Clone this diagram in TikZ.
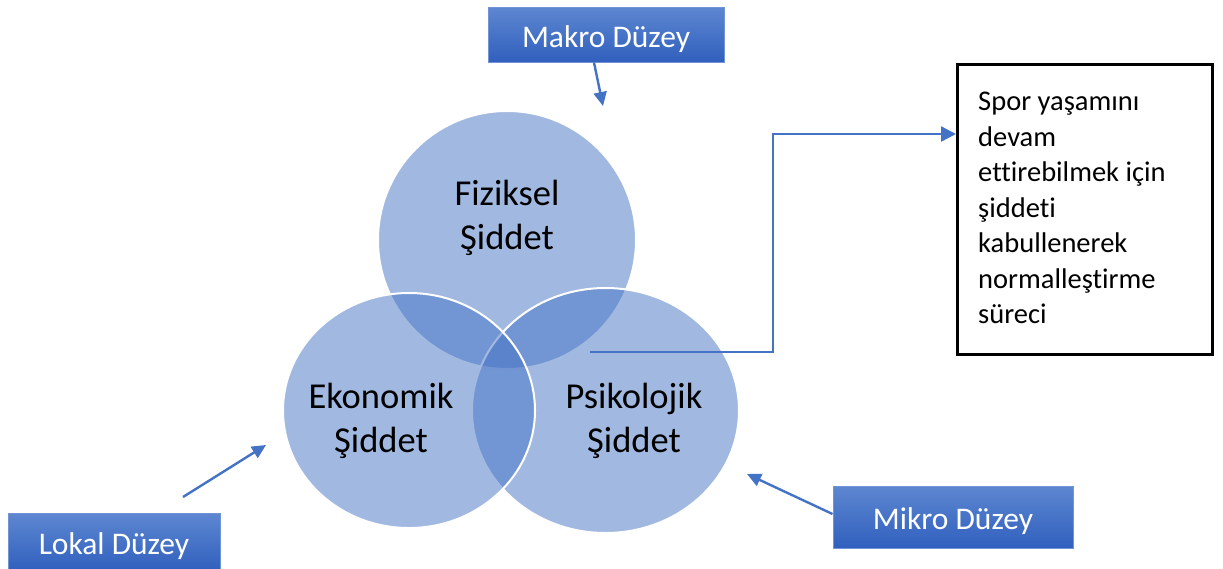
\documentclass[tikz,border=0pt]{standalone}
\usepackage{fontspec}
\setmainfont{Carlito}[Ligatures={NoCommon,NoContextual}]
\usetikzlibrary{arrows.meta,calc,shapes.geometric}
\definecolor{acc}{HTML}{4472C4}
\definecolor{lvltop}{HTML}{5E87D1}
\definecolor{lvlbot}{HTML}{3060BE}
\definecolor{lvledge}{HTML}{7294D6}
\tikzset{
  venn/.style={ellipse, inner sep=0pt, fill=acc, fill opacity=0.5, draw=white, draw opacity=1, line width=2pt},
  vennlabel/.style={align=center, inner sep=0pt, text=black, font=\fontsize{36.5pt}{44pt}\selectfont},
  lvl/.style={rectangle, top color=lvltop, bottom color=lvlbot, draw=lvledge, line width=1pt, text=white,
    font=\fontsize{31.5pt}{38pt}\selectfont, text height=25pt, text depth=0pt, inner sep=0pt},
  conn/.style={draw=acc, line width=2.4pt, -{Triangle[length=14pt,width=13pt]}},
  noteline/.style={align=left, inner sep=0pt, font=\fontsize{28.5pt}{35.5pt}\selectfont}
}
\begin{document}
\begin{tikzpicture}[x=1pt,y=-1pt]
\useasboundingbox (0,0) rectangle (1223,568);
% circles
\node[venn, minimum width=258pt, minimum height=258pt] (fiz) at (507,240) {};
\node[venn, minimum width=267pt, minimum height=245pt] (psi) at (605.5,410.5) {};
\node[venn, minimum width=252pt, minimum height=235pt] (eko) at (409,410.5) {};
% labels
\node[vennlabel] (fizl) at (507,218) {Fiziksel\\Şiddet};
\node[vennlabel] (ekol) at (381,421) {Ekonomik\\Şiddet};
\node[vennlabel] (psil) at (634,421) {Psikolojik\\Şiddet};
% level boxes
\node[lvl, minimum width=236pt, minimum height=55pt] (mak) at (606,34.5) {Makro Düzey};
\node[lvl, minimum width=212pt, minimum height=58pt] (lok) at (114,542) {Lokal Düzey};
\node[lvl, minimum width=240pt, minimum height=62pt] (mik) at (953,517) {Mikro Düzey};
% note box
\node[draw=black, line width=2.5pt, minimum width=255pt, minimum height=290pt, anchor=north west, inner sep=0pt] (tb) at (956,63) {};
\node[noteline, anchor=north west] (tbtext) at (978,92) {Spor yaşamını\\devam\\ettirebilmek için\\şiddeti\\kabullenerek\\normalleştirme\\süreci};
% arrow end points
\coordinate (makT) at (603,106);
\coordinate (lokS) at (183,497);
\coordinate (lokT) at (266,445);
\coordinate (mikT) at (747,474);
\coordinate (src) at (590,352);
\coordinate (tbin) at (956,134);
% connectors
\draw[conn] ([xshift=-12pt]mak.south) -- (makT);
\draw[conn] (lokS) -- (lokT);
\draw[conn] ([yshift=3pt]mik.west) -- (mikT);
\draw[conn, -{Triangle[length=15pt,width=15pt]}] (src) -| ($(src)!.5!(tbin)$) |- (tbin);
\end{tikzpicture}
\end{document}
